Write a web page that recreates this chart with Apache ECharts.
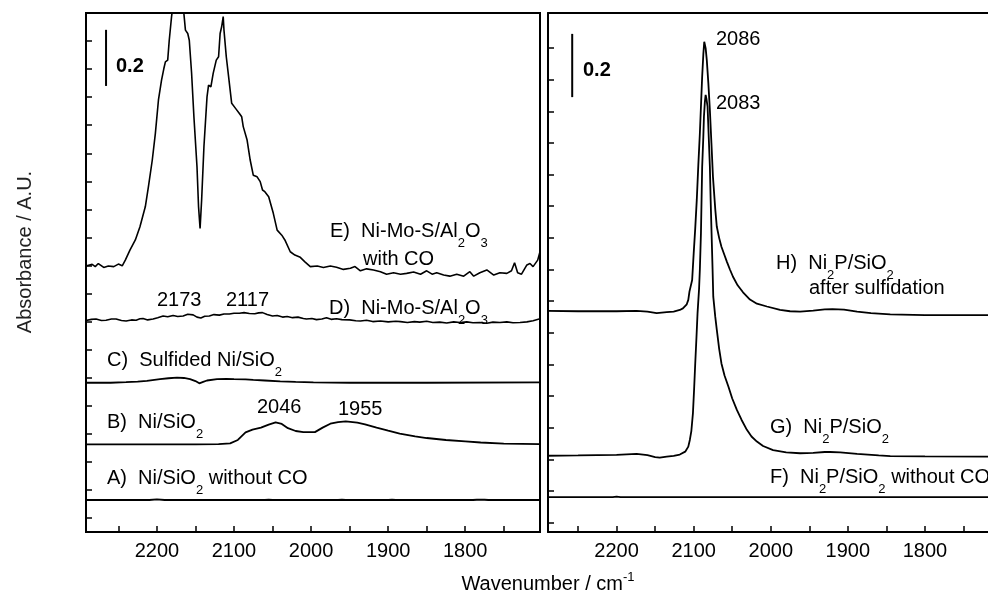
<!DOCTYPE html>
<html>
<head>
<meta charset="utf-8">
<script src="https://cdn.jsdelivr.net/npm/echarts@6/dist/echarts.min.js"></script>
<style>
  html, body { margin: 0; padding: 0; background: #fff; }
  #chart { width: 988px; height: 594px; }
</style>
</head>
<body>
<div id="chart"></div>
<script>
// wavenumber ticks / labels
const xTicks = [1750, 1800, 1850, 1900, 1950, 2000, 2050, 2100, 2150, 2200, 2250];
const xLabels = [1800, 1900, 2000, 2100, 2200];
const yTicksLeft = [0, 0.1, 0.2, 0.3, 0.4, 0.5, 0.6, 0.7, 0.8, 0.9, 1.0, 1.1, 1.2, 1.3, 1.4, 1.5, 1.6, 1.7];
const yTicksRight = [0, 0.1, 0.2, 0.3, 0.4, 0.5, 0.6, 0.7, 0.8, 0.9, 1.0, 1.1, 1.2, 1.3, 1.4, 1.5];

// A) Ni/SiO2 without CO
const wnA = [2292, 2210, 2200, 2190, 2060, 2055, 2050, 1965, 1960, 1955, 1900, 1895, 1890, 1790, 1785, 1775, 1770, 1703];
const absA = [0.064, 0.064, 0.066, 0.064, 0.064, 0.065, 0.064, 0.064, 0.065, 0.064, 0.064, 0.065, 0.064, 0.064, 0.065, 0.065, 0.064, 0.064];

// B) Ni/SiO2
const wnB = [2292, 2200, 2150, 2120, 2105, 2095, 2085, 2076, 2065, 2055, 2046, 2038, 2030, 2020, 2010, 1995, 1985, 1975, 1965, 1955, 1940, 1930, 1915, 1900, 1885, 1865, 1850, 1825, 1800, 1780, 1750, 1703];
const absB = [0.262, 0.262, 0.262, 0.263, 0.266, 0.278, 0.305, 0.315, 0.322, 0.333, 0.341, 0.335, 0.320, 0.310, 0.306, 0.306, 0.322, 0.336, 0.342, 0.344, 0.340, 0.334, 0.322, 0.311, 0.301, 0.291, 0.285, 0.278, 0.273, 0.269, 0.265, 0.263];

// C) Sulfided Ni/SiO2
const wnC = [2292, 2260, 2240, 2225, 2213, 2196, 2185, 2174, 2165, 2157, 2150, 2145, 2140, 2135, 2122, 2110, 2100, 2085, 2075, 2060, 2040, 2020, 1997, 1950, 1850, 1703];
const absC = [0.482, 0.482, 0.484, 0.486, 0.489, 0.495, 0.498, 0.500, 0.499, 0.495, 0.488, 0.480, 0.485, 0.490, 0.495, 0.496, 0.495, 0.494, 0.492, 0.490, 0.487, 0.485, 0.483, 0.482, 0.482, 0.483];

// D) Ni-Mo-S/Al2O3
const wnD = [2292, 2285, 2279, 2272, 2266, 2259, 2253, 2246, 2240, 2233, 2227, 2222, 2218, 2212, 2205, 2199, 2192, 2186, 2179, 2173, 2166, 2160, 2153, 2148, 2143, 2138, 2132, 2126, 2119, 2113, 2106, 2100, 2093, 2087, 2080, 2073, 2068, 2063, 2057, 2050, 2044, 2037, 2031, 2024, 2017, 2010, 2006, 1999, 1993, 1986, 1980, 1974, 1967, 1960, 1950, 1942, 1936, 1928, 1920, 1910, 1900, 1890, 1884, 1875, 1866, 1859, 1850, 1842, 1833, 1824, 1815, 1807, 1798, 1790, 1781, 1772, 1764, 1755, 1746, 1738, 1729, 1720, 1712, 1703];
const absD = [0.704, 0.708, 0.709, 0.704, 0.705, 0.709, 0.709, 0.704, 0.702, 0.706, 0.705, 0.710, 0.711, 0.706, 0.709, 0.714, 0.720, 0.717, 0.722, 0.718, 0.720, 0.726, 0.724, 0.716, 0.713, 0.719, 0.720, 0.725, 0.723, 0.727, 0.727, 0.730, 0.730, 0.732, 0.729, 0.728, 0.731, 0.732, 0.725, 0.720, 0.722, 0.716, 0.718, 0.714, 0.716, 0.711, 0.709, 0.711, 0.707, 0.709, 0.714, 0.708, 0.710, 0.707, 0.706, 0.703, 0.702, 0.705, 0.700, 0.702, 0.699, 0.701, 0.700, 0.697, 0.700, 0.698, 0.701, 0.697, 0.698, 0.695, 0.699, 0.697, 0.699, 0.696, 0.697, 0.694, 0.698, 0.697, 0.699, 0.696, 0.697, 0.699, 0.703, 0.710];

// E) Ni-Mo-S/Al2O3 with CO
const wnE = [2291, 2284, 2280, 2276, 2269, 2263, 2256, 2250, 2245, 2241, 2235, 2228, 2222, 2215, 2211, 2206, 2202, 2198, 2194, 2191, 2189, 2186, 2184, 2181, 2178, 2173, 2168, 2165, 2163, 2160, 2158, 2155, 2152, 2148, 2146, 2144, 2142, 2139, 2135, 2133, 2130, 2127, 2123, 2120, 2118, 2116, 2114, 2113, 2110, 2107, 2103, 2098, 2093, 2090, 2088, 2083, 2079, 2075, 2070, 2066, 2063, 2060, 2055, 2049, 2044, 2038, 2034, 2027, 2021, 2014, 2008, 2001, 1992, 1984, 1975, 1967, 1958, 1949, 1943, 1936, 1928, 1919, 1910, 1902, 1893, 1884, 1876, 1867, 1858, 1850, 1843, 1837, 1828, 1820, 1811, 1802, 1794, 1789, 1781, 1772, 1763, 1755, 1746, 1740, 1736, 1732, 1727, 1720, 1716, 1712, 1706, 1703];
const absE = [0.899, 0.904, 0.896, 0.907, 0.893, 0.898, 0.896, 0.905, 0.899, 0.919, 0.955, 0.991, 1.038, 1.110, 1.181, 1.276, 1.371, 1.490, 1.561, 1.602, 1.626, 1.632, 1.703, 1.787, 1.846, 1.893, 1.846, 1.798, 1.739, 1.727, 1.703, 1.585, 1.430, 1.252, 1.110, 1.032, 1.133, 1.323, 1.501, 1.543, 1.537, 1.585, 1.632, 1.644, 1.727, 1.751, 1.787, 1.739, 1.644, 1.573, 1.478, 1.460, 1.442, 1.430, 1.395, 1.347, 1.276, 1.222, 1.216, 1.199, 1.169, 1.163, 1.145, 1.086, 1.026, 1.008, 0.991, 0.949, 0.937, 0.929, 0.913, 0.896, 0.898, 0.893, 0.898, 0.894, 0.886, 0.890, 0.896, 0.881, 0.888, 0.884, 0.878, 0.869, 0.874, 0.869, 0.872, 0.877, 0.869, 0.881, 0.869, 0.874, 0.866, 0.862, 0.869, 0.862, 0.878, 0.862, 0.874, 0.884, 0.866, 0.874, 0.872, 0.881, 0.910, 0.874, 0.869, 0.902, 0.907, 0.896, 0.919, 0.949];

// F) Ni2P/SiO2 without CO
const wnF = [2292, 2205, 2200, 2195, 2100, 2000, 1900, 1800, 1703];
const absF = [0.080, 0.080, 0.082, 0.080, 0.080, 0.080, 0.080, 0.080, 0.080];

// G) Ni2P/SiO2
const wnG = [2292, 2250, 2200, 2174, 2160, 2150, 2144, 2135, 2126, 2118, 2111, 2107, 2105, 2103, 2101, 2099.5, 2098, 2096.5, 2095, 2093, 2092, 2090.6, 2089, 2087.5, 2086.7, 2085.5, 2084.5, 2083.5, 2082, 2080.5, 2079, 2078, 2076.8, 2075.5, 2074.6, 2072, 2070, 2067, 2064, 2060, 2055, 2050, 2044, 2038, 2031, 2025, 2018, 2010, 1997, 1980, 1962, 1945, 1930, 1923, 1910, 1888, 1860, 1845, 1800, 1703];
const absG = [0.211, 0.212, 0.214, 0.217, 0.213, 0.207, 0.205, 0.208, 0.211, 0.215, 0.224, 0.240, 0.261, 0.290, 0.345, 0.420, 0.503, 0.580, 0.662, 0.740, 0.800, 0.914, 1.125, 1.220, 1.283, 1.330, 1.352, 1.340, 1.315, 1.220, 1.125, 1.020, 0.914, 0.800, 0.714, 0.650, 0.609, 0.550, 0.503, 0.465, 0.430, 0.392, 0.356, 0.325, 0.293, 0.272, 0.256, 0.242, 0.229, 0.222, 0.219, 0.220, 0.223, 0.223, 0.222, 0.217, 0.212, 0.210, 0.209, 0.208];

// H) Ni2P/SiO2 after sulfidation
const wnH = [2292, 2250, 2200, 2174, 2160, 2148, 2135, 2126, 2118, 2114, 2109, 2107, 2105.5, 2102, 2100, 2098, 2096, 2094, 2092, 2090, 2089, 2087.5, 2086.3, 2084.5, 2083, 2081, 2079, 2077, 2075, 2072, 2070, 2067, 2064, 2060, 2057, 2053, 2049, 2043, 2036, 2027, 2018, 2005, 1988, 1975, 1962, 1945, 1930, 1920, 1905, 1888, 1870, 1845, 1800, 1750, 1703];
const absH = [0.669, 0.668, 0.668, 0.669, 0.667, 0.662, 0.665, 0.667, 0.672, 0.677, 0.690, 0.704, 0.730, 0.767, 0.851, 0.930, 1.020, 1.130, 1.230, 1.350, 1.410, 1.480, 1.520, 1.500, 1.462, 1.390, 1.304, 1.200, 1.093, 0.990, 0.935, 0.900, 0.872, 0.845, 0.825, 0.800, 0.777, 0.750, 0.728, 0.705, 0.692, 0.683, 0.672, 0.668, 0.667, 0.670, 0.674, 0.675, 0.673, 0.667, 0.662, 0.658, 0.656, 0.656, 0.656];

// 0.2 absorbance scale bars
const barLeftWn = [2266, 2266];
const barLeftAbs = [1.54, 1.74];
const barRightWn = [2257.6, 2257.6];
const barRightAbs = [1.345, 1.545];

const FONT = '"Liberation Sans", Arial, sans-serif';
const RICH = {
  s: { fontSize: 13, fontFamily: FONT, fill: '#000', padding: [25, 0, 0, 0] },
  u: { fontSize: 13, fontFamily: FONT, fill: '#000', padding: [0, 0, 14, 0] }
};

function pairs(wn, ab) {
  return wn.map((w, i) => [w, ab[i]]);
}

function lbl(x, y, text, extra) {
  return {
    type: 'text', x: x, y: y, silent: true,
    style: Object.assign({
      text: text, fontSize: 20, fontFamily: FONT, fill: '#000',
      align: 'left', verticalAlign: 'middle', rich: RICH
    }, extra || {})
  };
}

function xAx(gi, min, max, lineShow) {
  return {
    type: 'value', gridIndex: gi, inverse: true, min: min, max: max,
    axisLine: { show: lineShow, onZero: false, lineStyle: { color: '#000', width: 2 } },
    splitLine: { show: false },
    axisTick: { show: true, inside: true, length: 6, customValues: xTicks, lineStyle: { color: '#000', width: 1.5 } },
    axisLabel: {
      show: true, customValues: xLabels, margin: 9, color: '#000', fontSize: 20, fontFamily: FONT,
      formatter: v => String(v)
    }
  };
}

function yAx(gi, min, max, ticks, lineShow) {
  return {
    type: 'value', gridIndex: gi, min: min, max: max,
    axisLine: { show: lineShow, onZero: false, lineStyle: { color: '#000', width: 2 } },
    splitLine: { show: false },
    axisTick: { show: true, inside: true, length: 6, customValues: ticks, lineStyle: { color: '#000', width: 1.5 } },
    axisLabel: { show: false }
  };
}

function line(name, xi, data, w) {
  return {
    name: name, type: 'line', xAxisIndex: xi, yAxisIndex: xi,
    data: data, showSymbol: false, symbol: 'none', silent: true,
    clip: true, lineStyle: { color: '#000', width: w || 1.8 }
  };
}

let chart = echarts.init(document.getElementById('chart'));
let option = {
  backgroundColor: '#fff',
  animation: false,
  grid: [
    { left: 86, top: 13, width: 454, height: 519, show: true, borderColor: '#000', borderWidth: 2 },
    // right panel runs off the page edge, so no right border
    { left: 548, top: 13, width: 440, height: 519, show: false }
  ],
  xAxis: [
    xAx(0, 1703, 2292, false),
    xAx(1, 1718.2, 2289, true),
    { type: 'value', gridIndex: 1, position: 'top', inverse: true, min: 1718.2, max: 2289,
      axisLine: { show: true, onZero: false, lineStyle: { color: '#000', width: 2 } },
      axisTick: { show: false }, axisLabel: { show: false }, splitLine: { show: false } }
  ],
  yAxis: [
    yAx(0, -0.05, 1.80, yTicksLeft, false),
    yAx(1, -0.03, 1.611, yTicksRight, true)
  ],
  series: [
    line('A', 0, pairs(wnA, absA)),
    line('B', 0, pairs(wnB, absB)),
    line('C', 0, pairs(wnC, absC)),
    line('D', 0, pairs(wnD, absD), 1.6),
    line('E', 0, pairs(wnE, absE), 1.6),
    line('bar', 0, pairs(barLeftWn, barLeftAbs), 2),
    line('F', 1, pairs(wnF, absF)),
    line('G', 1, pairs(wnG, absG)),
    line('H', 1, pairs(wnH, absH)),
    line('bar', 1, pairs(barRightWn, barRightAbs), 2)
  ],
  graphic: [
    lbl(116, 66, '0.2', { fontWeight: 'bold' }),
    lbl(330, 231, 'E)  Ni-Mo-S/Al{s|2}O{s|3}'),
    lbl(363, 259, 'with CO'),
    lbl(157, 300, '2173'),
    lbl(226, 300, '2117'),
    lbl(329, 308, 'D)  Ni-Mo-S/Al{s|2}O{s|3}'),
    lbl(107, 360, 'C)  Sulfided Ni/SiO{s|2}'),
    lbl(257, 407, '2046'),
    lbl(338, 409, '1955'),
    lbl(107, 422, 'B)  Ni/SiO{s|2}'),
    lbl(107, 478, 'A)  Ni/SiO{s|2} without CO'),
    lbl(583, 70, '0.2', { fontWeight: 'bold' }),
    lbl(716, 39, '2086'),
    lbl(716, 103, '2083'),
    lbl(776, 263, 'H)  Ni{s|2}P/SiO{s|2}'),
    lbl(809, 288, 'after sulfidation'),
    lbl(770, 427, 'G)  Ni{s|2}P/SiO{s|2}'),
    lbl(770, 477, 'F)  Ni{s|2}P/SiO{s|2} without CO'),
    lbl(548, 584, 'Wavenumber / cm{u|-1}', { align: 'center' }),
    {
      type: 'text', x: 25, y: 252, rotation: Math.PI / 2, silent: true,
      style: { text: 'Absorbance / A.U.', fontSize: 20, fontFamily: FONT, fill: '#222', align: 'center', verticalAlign: 'middle' }
    }
  ]
};
chart.setOption(option);
</script>
</body>
</html>
